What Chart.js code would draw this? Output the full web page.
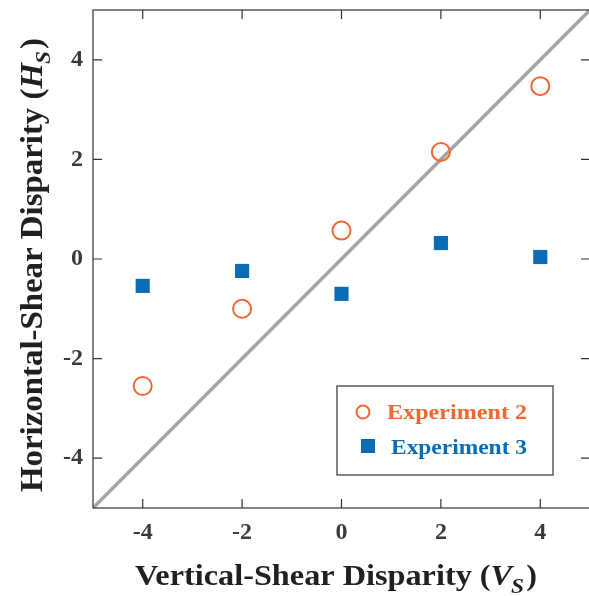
<!DOCTYPE html>
<html>
<head>
<meta charset="utf-8">
<script src="https://cdn.jsdelivr.net/npm/chart.js@4/dist/chart.umd.min.js"></script>
<style>
  html, body { margin: 0; padding: 0; overflow: hidden; background: #fff; }
  #wrap { width: 591px; height: 596px; }
</style>
</head>
<body>
<div id="wrap"><canvas id="c" width="591" height="596"></canvas></div>
<script>
// ---- data ----
const verticalShear = [-4, -2, 0, 2, 4];
const exp2Horizontal = [-2.55, -1.0, 0.57, 2.15, 3.47];
const exp3Horizontal = [-0.54, -0.24, -0.70, 0.32, 0.04];
const diagX = [-5, 5];
const diagY = [-5, 5];
const tickValues = [-4, -2, 0, 2, 4];
const seriesNames = ['Experiment 2', 'Experiment 3'];
const xTitleParts = ['Vertical-Shear Disparity (', 'V', 'S', ')'];
const yTitleParts = ['Horizontal-Shear Disparity (', 'H', 'S', ')'];

const ORANGE = '#f0682f';
const BLUE = '#0b6cb5';
const GRAY = '#a4a4a4';
const SERIF = '"Liberation Serif", "Times New Roman", serif';

function pts(xs, ys) { return xs.map((x, i) => ({ x: x, y: ys[i] })); }

// draws rich title centred at origin, stretched horizontally to targetW
function drawRichTitle(ctx, parts, size, targetW) {
  const fb = 'bold ' + size + 'px ' + SERIF;
  const fi = 'italic bold ' + size + 'px ' + SERIF;
  const fs = 'italic bold ' + Math.round(size * 0.72) + 'px ' + SERIF;
  ctx.font = fb; const w0 = ctx.measureText(parts[0]).width;
  ctx.font = fi; const w1 = ctx.measureText(parts[1]).width;
  ctx.font = fs; const w2 = ctx.measureText(parts[2]).width;
  ctx.font = fb; const w3 = ctx.measureText(parts[3]).width;
  const total = w0 + w1 + w2 + w3 + 1;
  const sx = targetW / total;
  ctx.scale(sx, 1);
  let x = -total / 2;
  ctx.textBaseline = 'alphabetic';
  ctx.textAlign = 'left';
  ctx.font = fb; ctx.fillText(parts[0], x, 0); x += w0;
  ctx.font = fi; ctx.fillText(parts[1], x, 0); x += w1 - 1;
  ctx.font = fs; ctx.fillText(parts[2], x, size * 0.27); x += w2 + 2;
  ctx.font = fb; ctx.fillText(parts[3], x, 0);
}

function drawStretched(ctx, text, x, y, size, targetW) {
  ctx.save();
  ctx.font = 'bold ' + size + 'px ' + SERIF;
  const w = ctx.measureText(text).width;
  ctx.translate(x, y);
  ctx.scale(targetW / w, 1);
  ctx.textAlign = 'left'; ctx.textBaseline = 'alphabetic';
  ctx.fillText(text, 0, 0);
  ctx.restore();
}

const decorPlugin = {
  id: 'decor',
  afterDatasetsDraw(chart) {
    const ctx = chart.ctx;
    const a = chart.chartArea;
    const xs = chart.scales.x, ys = chart.scales.y;
    ctx.save();
    // frame
    ctx.strokeStyle = '#333';
    ctx.lineWidth = 1.2;
    ctx.strokeRect(a.left, a.top, a.right - a.left, a.bottom - a.top);
    // inward ticks on all sides
    const tl = 9;
    ctx.beginPath();
    tickValues.forEach(v => {
      const px = xs.getPixelForValue(v);
      ctx.moveTo(px, a.bottom); ctx.lineTo(px, a.bottom - tl);
      ctx.moveTo(px, a.top); ctx.lineTo(px, a.top + tl);
      const py = ys.getPixelForValue(v);
      ctx.moveTo(a.left, py); ctx.lineTo(a.left + tl, py);
      ctx.moveTo(a.right, py); ctx.lineTo(a.right - tl, py);
    });
    ctx.stroke();

    // legend box
    ctx.fillStyle = '#fff';
    ctx.fillRect(337, 386, 216, 89);
    ctx.strokeStyle = '#333';
    ctx.lineWidth = 1.2;
    ctx.strokeRect(337, 386, 216, 89);
    // legend markers
    ctx.strokeStyle = ORANGE; ctx.lineWidth = 2;
    ctx.beginPath(); ctx.arc(363, 412, 6.5, 0, Math.PI * 2); ctx.stroke();
    ctx.fillStyle = BLUE;
    ctx.fillRect(361, 439, 14, 14);
    // legend text
    ctx.fillStyle = ORANGE; drawStretched(ctx, seriesNames[0], 387, 419, 22, 140);
    ctx.fillStyle = BLUE; drawStretched(ctx, seriesNames[1], 391, 454, 22, 136);

    // axis titles
    ctx.fillStyle = '#231f20';
    ctx.save();
    ctx.translate(336, 585);
    drawRichTitle(ctx, xTitleParts, 29, 402);
    ctx.restore();
    ctx.save();
    ctx.translate(42, 265);
    ctx.rotate(-Math.PI / 2);
    drawRichTitle(ctx, yTitleParts, 31, 454);
    ctx.restore();
    ctx.restore();
  }
};

function noPad(s) { s.paddingTop = 0; s.paddingBottom = 0; s.paddingLeft = 0; s.paddingRight = 0; }

new Chart(document.getElementById('c'), {
  type: 'scatter',
  data: {
    datasets: [
      {
        label: seriesNames[0],
        data: pts(verticalShear, exp2Horizontal),
        pointStyle: 'circle',
        pointRadius: 9,
        borderWidth: 2,
        borderColor: ORANGE,
        backgroundColor: 'rgba(0,0,0,0)',
        order: 1
      },
      {
        label: seriesNames[1],
        data: pts(verticalShear, exp3Horizontal),
        pointStyle: 'rect',
        pointRadius: 10,
        borderWidth: 0,
        borderColor: BLUE,
        backgroundColor: BLUE,
        order: 2
      },
      {
        type: 'line',
        label: 'identity',
        data: pts(diagX, diagY),
        borderColor: GRAY,
        borderWidth: 3.5,
        pointRadius: 0,
        fill: false,
        order: 10
      }
    ]
  },
  options: {
    responsive: false,
    animation: false,
    devicePixelRatio: 1,
    layout: { autoPadding: false, padding: { top: 10, right: 1, left: 0, bottom: 0 } },
    plugins: {
      legend: { display: false },
      tooltip: { enabled: false }
    },
    scales: {
      x: {
        type: 'linear',
        min: -5, max: 5,
        afterFit(s) { s.height = 88; noPad(s); },
        afterBuildTicks(s) { s.ticks = tickValues.map(v => ({ value: v })); },
        grid: { display: false, drawTicks: false },
        border: { display: false },
        ticks: {
          padding: 10,
          color: '#3a3a3a',
          font: { family: SERIF, size: 24, weight: 'bold' },
          maxRotation: 0
        }
      },
      y: {
        type: 'linear',
        min: -5, max: 5,
        afterFit(s) { s.width = 93; noPad(s); },
        afterBuildTicks(s) { s.ticks = tickValues.map(v => ({ value: v })); },
        grid: { display: false, drawTicks: false },
        border: { display: false },
        ticks: {
          padding: 10,
          color: '#3a3a3a',
          font: { family: SERIF, size: 24, weight: 'bold' }
        }
      }
    }
  },
  plugins: [decorPlugin]
});
</script>
</body>
</html>
